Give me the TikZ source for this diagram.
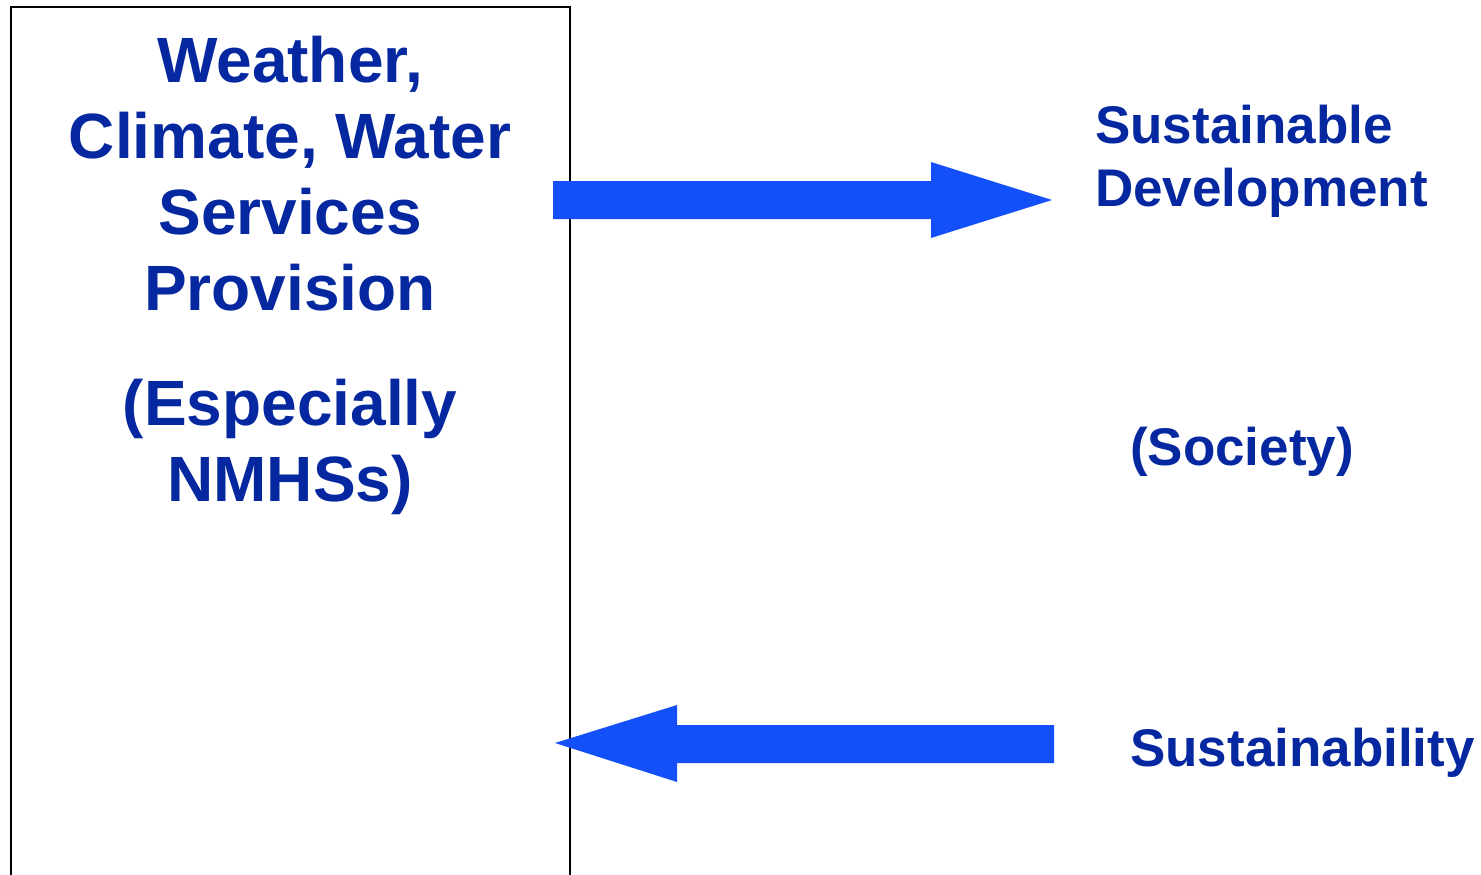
\documentclass[tikz,border=0pt]{standalone}
\usepackage{fontspec}
\setmainfont{Liberation Sans}
\definecolor{txtblue}{RGB}{5,40,160}
\definecolor{arrblue}{RGB}{20,80,250}
\tikzset{
  lbl/.style={font=\bfseries\fontsize{64}{77}\selectfont, text=txtblue, align=center, inner sep=0pt},
  rlbl/.style={font=\bfseries\fontsize{53}{63}\selectfont, text=txtblue, inner sep=0pt},
  fatarrow/.style={fill=arrblue, draw=none}
}
\begin{document}
\begin{tikzpicture}[x=1pt,y=-1pt]
\useasboundingbox (0,0) rectangle (1481,875);
% box
\draw[line width=1.3pt] (11,876) -- (11,7) -- (570,7) -- (570,876);
% left texts
\node[lbl, anchor=base] (t1) at (290,82) {Weather,};
\node[lbl, anchor=base] (t2) at (290,158) {Climate, Water};
\node[lbl, anchor=base] (t3) at (290,234) {Services};
\node[lbl, anchor=base] (t4) at (290,310) {Provision};
\node[lbl, anchor=base] (t5) at (290,425) {(Especially};
\node[lbl, anchor=base] (t6) at (290,501) {NMHSs)};
% right texts
\node[rlbl, anchor=base west] (r1) at (1095,143) {Sustainable};
\node[rlbl, anchor=base west] (r2) at (1095,206) {Development};
\node[rlbl, anchor=base] (r3) at (1242,465) {(Society)};
\node[rlbl, anchor=base west] (r4) at (1130,766) {Sustainability};
% arrows
\fill[fatarrow] (553,181) -- (931,181) -- (931,162) -- (1052,200) -- (931,238) -- (931,219) -- (553,219) -- cycle;
\fill[fatarrow] (1054,725) -- (677,725) -- (677,705) -- (555,743) -- (677,782) -- (677,763) -- (1054,763) -- cycle;
\end{tikzpicture}
\end{document}
